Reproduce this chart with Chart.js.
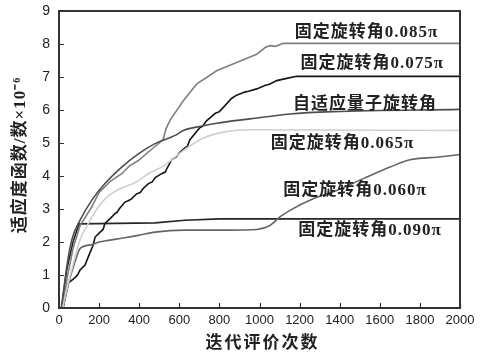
<!DOCTYPE html>
<html>
<head>
<meta charset="utf-8">
<script src="https://cdn.jsdelivr.net/npm/chart.js@4"></script>
<style>
  body { margin: 0; background: #fff; }
  canvas { display: block; }
</style>
</head>
<body>
<canvas id="fitChart" width="484" height="355"></canvas>
<script>
// series (x = evaluations, y = fitness ×10^-6)
const x085 = [15, 40, 70, 105, 163, 200, 254, 313, 350, 396, 450, 500, 520, 535, 555, 620, 687, 740, 786, 886, 950, 986, 1030, 1052, 1080, 1119, 2000];
const y085 = [0, 0.9, 1.8, 2.5, 3.06, 3.5, 3.83, 4.07, 4.3, 4.47, 4.75, 5.0, 5.12, 5.45, 5.7, 6.28, 6.79, 7.0, 7.19, 7.44, 7.6, 7.69, 7.9, 7.95, 7.93, 8.02, 8.02];

const x075 = [20, 46, 80, 92, 105, 130, 146, 170, 180, 205, 220, 229, 254, 279, 290, 300, 329, 345, 360, 387, 405, 420, 446, 465, 480, 512, 530, 540, 562, 585, 600, 628, 640, 653, 700, 715, 737, 780, 800, 820, 860, 886, 930, 945, 986, 1030, 1050, 1086, 1130, 1185, 2000];
const y075 = [0, 0.75, 0.92, 1.0, 1.15, 1.3, 1.55, 1.9, 2.15, 2.3, 2.38, 2.56, 2.7, 2.86, 2.9, 3.0, 3.21, 3.25, 3.3, 3.46, 3.5, 3.62, 3.77, 3.82, 3.95, 4.07, 4.12, 4.25, 4.5, 4.58, 4.7, 4.85, 4.9, 5.1, 5.45, 5.5, 5.68, 5.9, 5.95, 6.08, 6.35, 6.45, 6.55, 6.57, 6.64, 6.75, 6.78, 6.89, 6.95, 7.02, 7.02];

const xAdapt = [12, 40, 63, 105, 163, 229, 313, 396, 479, 579, 620, 700, 786, 953, 1152, 1369, 2000];
const yAdapt = [0, 1.3, 2.05, 2.66, 3.26, 3.77, 4.27, 4.67, 4.98, 5.23, 5.38, 5.5, 5.6, 5.73, 5.88, 5.95, 6.02];

const x065 = [18, 40, 63, 105, 146, 196, 246, 300, 379, 454, 520, 620, 720, 820, 953, 2000];
const y065 = [0, 0.6, 1.15, 2.07, 2.56, 3.06, 3.4, 3.6, 3.8, 4.1, 4.3, 4.77, 5.15, 5.33, 5.4, 5.38];

const x060 = [20, 50, 80, 105, 163, 200, 246, 320, 396, 479, 628, 853, 986, 1052, 1102, 1152, 1268, 1385, 1518, 1651, 1751, 1884, 2000];
const y060 = [0, 0.8, 1.4, 1.8, 1.92, 2.0, 2.05, 2.12, 2.2, 2.3, 2.36, 2.36, 2.38, 2.5, 2.76, 2.96, 3.31, 3.56, 3.92, 4.27, 4.49, 4.57, 4.65];

const x090 = [12, 40, 70, 100, 479, 628, 800, 2000];
const y090 = [0, 1.2, 2.0, 2.55, 2.58, 2.66, 2.7, 2.7];

const seriesNames = ['固定旋转角0.085π', '固定旋转角0.075π', '自适应量子旋转角', '固定旋转角0.065π', '固定旋转角0.060π', '固定旋转角0.090π'];
// label anchor (center) in data units
const labelX = [1534, 1563, 1526, 1414, 1476, 1551];
const labelY = [8.35, 7.41, 6.15, 4.97, 3.55, 2.36];

const xTicks = [0, 200, 400, 600, 800, 1000, 1200, 1400, 1600, 1800, 2000];
const yTicks = [0, 1, 2, 3, 4, 5, 6, 7, 8, 9];

const toPts = (xs, ys) => xs.map((x, i) => ({ x, y: ys[i] }));

function ds(i, xs, ys, color, smooth) {
    return {
        label: seriesNames[i],
        data: toPts(xs, ys),
        borderColor: color,
        borderWidth: 1.6,
        pointRadius: 0,
        fill: false,
        cubicInterpolationMode: smooth ? 'monotone' : 'default',
        tension: 0,
    };
}

const datasets = [
    ds(3, x065, y065, '#cfcfcf', true),
    ds(4, x060, y060, '#666666', true),
    ds(2, xAdapt, yAdapt, '#4d4d4d', true),
    ds(0, x085, y085, '#7f7f7f', false),
    ds(5, x090, y090, '#262626', false),
    ds(1, x075, y075, '#141414', false),
];

const frameAndText = {
    id: 'frameAndText',
    afterDatasetsDraw(chart) {
        const { ctx, chartArea: a, scales } = chart;
        const xs = scales.x, ys = scales.y;
        ctx.save();
        // frame
        ctx.strokeStyle = '#333';
        ctx.lineWidth = 2;
        ctx.strokeRect(a.left, a.top, a.right - a.left, a.bottom - a.top);
        // inward ticks
        ctx.lineWidth = 1.2;
        ctx.beginPath();
        xTicks.forEach(v => {
            const px = Math.round(xs.getPixelForValue(v)) + 0.5;
            ctx.moveTo(px, a.bottom); ctx.lineTo(px, a.bottom - 5);
        });
        yTicks.forEach(v => {
            const py = Math.round(ys.getPixelForValue(v)) + 0.5;
            ctx.moveTo(a.left, py); ctx.lineTo(a.left + 5, py);
        });
        ctx.stroke();

        // series labels
        ctx.fillStyle = '#222';
        ctx.textAlign = 'center';
        ctx.textBaseline = 'middle';
        ctx.font = 'bold 17px "Liberation Serif", "Noto Sans CJK SC", serif';
        ctx.letterSpacing = '1px';
        seriesNames.forEach((name, i) => {
            ctx.fillText(name, xs.getPixelForValue(labelX[i]), ys.getPixelForValue(labelY[i]));
        });

        // axis titles
        ctx.font = 'bold 17px "Noto Sans CJK SC", serif';
        ctx.letterSpacing = '2px';
        ctx.fillText('迭代评价次数', (a.left + a.right) / 2 + 3, 342);

        ctx.translate(21, 155);
        ctx.rotate(-Math.PI / 2);
        ctx.font = 'bold 17px "Liberation Serif", "Noto Sans CJK SC", serif';
        ctx.letterSpacing = '1px';
        ctx.fillText('适应度函数/数×10⁻⁶', 0, 0);
        ctx.restore();
    }
};

new Chart(document.getElementById('fitChart'), {
    type: 'line',
    data: { datasets },
    options: {
        responsive: false,
        animation: false,
        layout: { padding: { top: 11, right: 24, left: 0, bottom: 0 } },
        plugins: { legend: { display: false }, tooltip: { enabled: false } },
        scales: {
            x: {
                type: 'linear',
                min: 0, max: 2000,
                afterBuildTicks: s => { s.ticks = xTicks.map(v => ({ value: v })); },
                afterFit: s => { s.height = 47; s.paddingLeft = 0; s.paddingRight = 0; },
                grid: { display: false, drawTicks: false },
                border: { display: false },
                ticks: { color: '#222', padding: 5, maxRotation: 0, autoSkip: false, callback: v => String(v), font: { family: '"Liberation Sans", Arial, sans-serif', size: 13 } }
            },
            y: {
                min: 0, max: 9,
                afterBuildTicks: s => { s.ticks = yTicks.map(v => ({ value: v })); },
                afterFit: s => { s.width = 59; s.paddingTop = 0; s.paddingBottom = 0; },
                grid: { display: false, drawTicks: false },
                border: { display: false },
                ticks: { color: '#222', padding: 9, callback: v => String(v), font: { family: '"Liberation Sans", Arial, sans-serif', size: 14 } }
            }
        }
    },
    plugins: [frameAndText]
});
</script>
</body>
</html>
